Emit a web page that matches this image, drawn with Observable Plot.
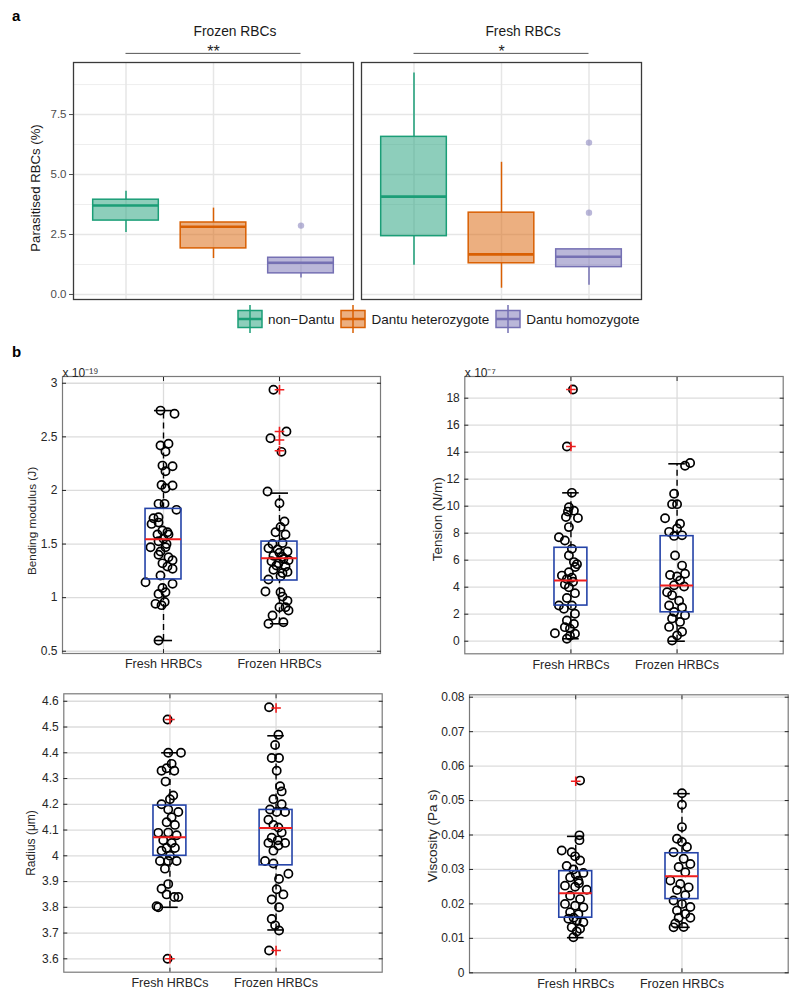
<!DOCTYPE html>
<html><head><meta charset="utf-8">
<script src="https://cdn.jsdelivr.net/npm/d3@7"></script>
<script src="https://cdn.jsdelivr.net/npm/@observablehq/plot@0.6"></script>
<style>
body{margin:0;background:#fff;}
#root{position:relative;width:800px;height:1000px;background:#fff;font-family:"Liberation Sans",Arial,Helvetica,sans-serif;}
.plabel{position:absolute;font-weight:bold;font-size:15px;color:#000;}
#legend{position:absolute;left:237px;top:304px;display:flex;align-items:center;font-size:13.5px;color:#1a1a1a;}
#legend .item{display:flex;align-items:center;margin-right:6px;}
#legend .item span{margin-left:5px;}
</style></head>
<body><div id="root"></div>
<script>
const FONT = '"Liberation Sans", Arial, Helvetica, sans-serif';

// ---------------- Panel a data ----------------
const groupsA = ["non\u2212Dantu", "Dantu heterozygote", "Dantu homozygote"];
const facetsA = ["Frozen RBCs", "Fresh RBCs"];
const coloursA = ["#1b9e77", "#d95f02", "#7570b3"];
const signifA = ["**", "*"];
const yLabelA = "Parasitised RBCs (%)";
const yTicksA = [0, 2.5, 5, 7.5];
const yMinorA = [1.25, 3.75, 6.25, 8.75];

const frozenQ1 = [3.08, 1.92, 0.88];
const frozenMed = [3.71, 2.82, 1.32];
const frozenQ3 = [3.95, 3.0, 1.53];
const frozenLo = [2.58, 1.5, 0.69];
const frozenHi = [4.3, 3.6, 1.53];
const frozenOut = [[], [], [2.87]];

const freshQ1 = [2.43, 1.3, 1.14];
const freshMed = [4.08, 1.67, 1.57];
const freshQ3 = [6.57, 3.41, 1.88];
const freshLo = [1.22, 0.26, 0.38];
const freshHi = [9.23, 5.51, 1.88];
const freshOut = [[], [], [3.41, 6.33]];

// ---------------- Panel b data ----------------
const catsB = ["Fresh HRBCs", "Frozen HRBCs"];

// Bending modulus (x 1e-19 J)
const bendFreshVals = [2.745,2.715,2.419,2.435,2.363,2.232,2.226,2.179,2.052,2.046,2.02,1.875,1.875,1.819,1.741,1.75,1.688,1.70,1.626,1.61,1.59,1.59,1.55,1.526,1.50,1.47,1.47,1.43,1.40,1.377,1.35,1.32,1.29,1.27,1.206,1.144,1.13,1.09,1.05,1.035,0.942,0.93,0.96,0.60];
const bendFreshJit = [-0.026,0.095,-0.026,0.043,0.017,-0.009,0.078,0.017,-0.017,0.078,0.017,-0.043,0.009,0.112,-0.086,-0.043,-0.103,-0.043,-0.009,0.034,-0.052,0.043,0.0,-0.043,0.026,-0.112,0.017,-0.026,-0.043,0.043,0.078,-0.009,0.034,0.078,-0.026,-0.155,0.078,-0.009,0.017,-0.043,-0.069,-0.017,0.01,-0.043];
const bendFrozenVals = [2.94,2.55,2.487,2.36,1.99,1.88,1.71,1.66,1.61,1.59,1.51,1.50,1.46,1.45,1.43,1.42,1.39,1.38,1.36,1.35,1.34,1.32,1.30,1.29,1.26,1.24,1.23,1.20,1.17,1.057,1.05,1.01,0.97,0.91,0.91,0.88,0.833,0.77,0.756];
const bendFrozenJit = [-0.052,0.06,-0.078,0.017,-0.103,0,0.043,0.009,-0.034,0.052,0.026,-0.06,-0.095,-0.017,0.069,0.0,-0.052,0.026,0.034,0.078,-0.069,-0.009,-0.026,0.052,-0.052,0.069,0.026,0.009,-0.095,-0.121,0.009,0.026,0.069,0,0.052,0.078,-0.06,0.034,-0.095];
const bendQ1 = [1.17, 1.16], bendMed = [1.544, 1.368], bendQ3 = [1.828, 1.523];
const bendLo = [0.60, 0.756], bendHi = [2.745, 1.975];
const bendOut = [[], [2.94, 2.55, 2.47, 2.37]];
const bendTicks = [0.5, 1, 1.5, 2, 2.5, 3];

// Tension (x 1e-7 N/m)
const tenFreshVals = [18.64,14.42,10.99,9.93,9.67,9.6,9.2,9.12,8.45,7.70,7.46,6.84,6.35,5.86,5.7,5.5,5.11,4.86,4.7,4.6,4.4,4.2,4.0,3.56,3.2,2.64,2.64,2.4,2.03,1.53,1.28,1.04,0.93,0.59,0.55,0.4,0.18];
const tenFreshJit = [0.019,-0.038,0.009,-0.019,0.028,-0.028,-0.047,0.066,-0.019,-0.113,-0.057,0.009,-0.019,0.028,0.057,0.04,-0.019,-0.085,0.009,-0.038,0.02,-0.057,-0.019,0.038,-0.038,-0.113,0.009,-0.066,0.038,-0.038,0.028,-0.057,-0.009,-0.151,0.038,-0.009,-0.038];
const tenFrozenVals = [13.2,13.0,10.92,10.15,10.15,9.11,8.7,8.35,8.1,7.84,7.8,6.35,5.6,5.0,4.9,4.8,4.5,4.15,4.05,3.63,3.4,3.0,2.64,2.5,2.17,1.93,1.68,1.43,1.06,0.7,0.42,0.05];
const tenFrozenJit = [0.123,0.075,-0.028,-0.047,0,-0.113,0.028,0,-0.075,0.047,-0.028,-0.019,0.047,0.075,-0.066,0,0.028,-0.028,0.066,-0.094,-0.047,0.019,-0.075,0.047,-0.028,0.075,-0.047,0.028,-0.075,0.047,0,-0.047];
const tenQ1 = [2.64, 2.14], tenMed = [4.5, 4.12], tenQ3 = [6.92, 7.78];
const tenLo = [0.18, 0.0], tenHi = [10.99, 13.14];
const tenOut = [[18.64, 14.42], []];
const tenTicks = [0, 2, 4, 6, 8, 10, 12, 14, 16, 18];

// Radius (um)
const radFreshVals = [4.529,4.40,4.40,4.357,4.33,4.34,4.33,4.288,4.234,4.22,4.20,4.18,4.17,4.15,4.13,4.12,4.089,4.09,4.08,4.06,4.05,4.03,4.03,4.02,4.0,3.98,3.98,3.98,3.95,3.89,3.872,3.85,3.84,3.84,3.804,3.80,3.60];
const radFreshJit = [-0.022,-0.016,0.104,0.016,-0.079,-0.031,0.041,-0.041,0.031,0,-0.079,-0.016,0.079,0.016,-0.031,0.047,-0.11,-0.016,0.063,-0.063,0.016,-0.031,0.047,-0.079,0,-0.094,-0.016,0.063,-0.047,-0.016,-0.079,-0.031,0.041,0.079,-0.126,-0.11,-0.022];
const radFrozenVals = [4.577,4.47,4.43,4.38,4.38,4.33,4.27,4.25,4.22,4.20,4.18,4.17,4.17,4.14,4.12,4.11,4.09,4.07,4.06,4.05,4.05,4.04,4.02,3.98,3.97,3.93,3.91,3.87,3.85,3.83,3.80,3.755,3.73,3.71,3.632];
const radFrozenJit = [-0.066,0.022,-0.009,-0.041,0.028,0.006,0.038,0.053,-0.025,0.053,-0.057,0.006,0.085,-0.072,-0.025,0.022,0.053,-0.041,0.016,0.085,-0.072,0.022,-0.025,-0.104,-0.025,0.116,0.028,0.006,0.069,-0.041,0.028,-0.041,-0.009,0.028,-0.066];
const radQ1 = [4.0, 3.963], radMed = [4.072, 4.108], radQ3 = [4.195, 4.178];
const radLo = [3.80, 3.712], radHi = [4.40, 4.466];
const radOut = [[4.529, 3.6], [4.574, 3.632]];
const radTicks = [3.6, 3.7, 3.8, 3.9, 4, 4.1, 4.2, 4.3, 4.4, 4.5, 4.6];

// Viscosity (Pa s)
const visFreshVals = [0.0558,0.0399,0.0385,0.0355,0.035,0.0338,0.0326,0.031,0.030,0.0285,0.029,0.0277,0.0267,0.026,0.0253,0.025,0.0241,0.0224,0.0214,0.020,0.0195,0.019,0.0176,0.017,0.016,0.0157,0.0152,0.0147,0.0132,0.0128,0.012,0.0103];
const visFreshJit = [0.041,0.035,0.035,-0.132,-0.038,-0.006,0.041,-0.085,-0.022,0.0,0.072,-0.053,0.025,0.03,-0.101,-0.006,0.104,-0.053,0.041,-0.101,-0.006,0.072,-0.053,0.025,-0.02,-0.069,0.009,0.072,-0.038,0.041,0.01,-0.022];
const visFrozenVals = [0.0521,0.0488,0.0423,0.0389,0.038,0.0365,0.035,0.0331,0.0316,0.0307,0.0292,0.0268,0.0258,0.0248,0.024,0.0225,0.021,0.020,0.0191,0.0181,0.0171,0.016,0.016,0.0143,0.0133,0.0132];
const visFrozenJit = [0,0,0,-0.047,0,0.047,-0.079,0.016,0.079,-0.031,0.031,-0.11,-0.016,0.063,-0.047,0.031,-0.079,0,0.079,-0.047,0.031,-0.031,0.079,-0.063,0.016,-0.079];
const visQ1 = [0.016, 0.0214], visMed = [0.0231, 0.028], visQ3 = [0.0295, 0.0347];
const visLo = [0.0102, 0.0132], visHi = [0.0396, 0.052];
const visOut = [[0.0556], []];
const visTicks = [0, 0.01, 0.02, 0.03, 0.04, 0.05, 0.06, 0.07, 0.08];

// ---------------- build ----------------
const root = document.getElementById("root");
function place(el, left, top) {
  el.style.position = "absolute";
  el.style.left = left + "px";
  el.style.top = top + "px";
  root.appendChild(el);
}
function addLabel(t, left, top) {
  const d = document.createElement("div");
  d.className = "plabel"; d.textContent = t;
  d.style.left = left + "px"; d.style.top = top + "px";
  root.appendChild(d);
}

// Panel a
const statsA = {
  "Frozen RBCs": {q1: frozenQ1, med: frozenMed, q3: frozenQ3, lo: frozenLo, hi: frozenHi, out: frozenOut},
  "Fresh RBCs": {q1: freshQ1, med: freshMed, q3: freshQ3, lo: freshLo, hi: freshHi, out: freshOut}
};
const rowsA = [], outA = [];
facetsA.forEach(f => groupsA.forEach((g, gi) => {
  const s = statsA[f];
  rowsA.push({facet: f, group: g, gi, q1: s.q1[gi], med: s.med[gi], q3: s.q3[gi], lo: s.lo[gi], hi: s.hi[gi]});
  s.out[gi].forEach(v => outA.push({facet: f, group: g, gi, v}));
}));
const sigRows = facetsA.map((f, i) => ({facet: f, s: signifA[i]}));
const HW = 0.375;

const plotA = Plot.plot({
  width: 660, height: 310,
  marginLeft: 73, marginRight: 19, marginTop: 62, marginBottom: 11,
  fx: {domain: facetsA, paddingInner: 0.0278, paddingOuter: 0, round: false, axis: null},
  x: {domain: [-0.6, 2.6], axis: null},
  y: {domain: [-0.21, 9.67]},
  color: {domain: groupsA, range: coloursA},
  style: {fontFamily: FONT, background: "transparent", overflow: "visible"},
  marks: [
    Plot.ruleY(yMinorA, {stroke: "#eeeeee", strokeWidth: 1}),
    Plot.ruleY(yTicksA, {stroke: "#e6e6e6", strokeWidth: 1.5}),
    Plot.ruleX([0, 1, 2], {stroke: "#e6e6e6", strokeWidth: 1.5}),
    Plot.ruleX(rowsA, {fx: "facet", x: "gi", y1: "q3", y2: "hi", stroke: "group", strokeWidth: 1.5}),
    Plot.ruleX(rowsA, {fx: "facet", x: "gi", y1: "lo", y2: "q1", stroke: "group", strokeWidth: 1.5}),
    Plot.rect(rowsA, {fx: "facet", x1: d => d.gi - HW, x2: d => d.gi + HW, y1: "q1", y2: "q3", fill: "group", fillOpacity: 0.5, stroke: "group", strokeWidth: 1.5}),
    Plot.ruleY(rowsA, {fx: "facet", y: "med", x1: d => d.gi - HW, x2: d => d.gi + HW, stroke: "group", strokeWidth: 2.6}),
    Plot.dot(outA, {fx: "facet", x: "gi", y: "v", fill: "group", fillOpacity: 0.5, r: 3.2}),
    Plot.frame({stroke: "#3a3a3a", strokeWidth: 1.3}),
    Plot.axisY({ticks: yTicksA, tickFormat: d => d.toFixed(1), tickSize: 4, tickPadding: 3, fontSize: 11.5, color: "#4d4d4d", label: null}),
    Plot.ruleY(sigRows, {fx: "facet", y: 10.05, x1: 0, x2: 2, stroke: "#555", strokeWidth: 1}),
    Plot.text(sigRows, {fx: "facet", x: 1, y: 10.05, text: "s", dy: -2, fontSize: 16, fill: "#222"}),
    Plot.text(facetsA, {fx: d => d, text: d => d, frameAnchor: "top", dy: -36, dx: 21.5, fontSize: 13.8, fill: "#1a1a1a"}),
    Plot.text([{facet: facetsA[0], t: yLabelA}], {fx: "facet", text: "t", frameAnchor: "left", textAnchor: "middle", rotate: -90, dx: -38, dy: 7, fontSize: 13.2, fill: "#1a1a1a"})
  ]
});
place(plotA, 0, 0);
addLabel("a", 12, 7);

// Legend for panel a
const leg = document.createElement("div");
leg.id = "legend";
groupsA.forEach((g, i) => {
  const c = coloursA[i];
  const it = document.createElement("div");
  it.className = "item";
  it.innerHTML = `<svg width="26" height="30"><line x1="13" x2="13" y1="1" y2="29" stroke="${c}" stroke-width="1.5"/><rect x="1" y="6.5" width="24" height="17" fill="${c}" fill-opacity="0.5" stroke="${c}" stroke-width="1.5"/><line x1="1" x2="25" y1="15" y2="15" stroke="${c}" stroke-width="2.5"/></svg><span>${g}</span>`;
  leg.appendChild(it);
});
root.appendChild(leg);

// Panel b helper
function matlabPanel(o) {
  const pts = [], outs = [];
  o.cats.forEach((c, ci) => o.vals[ci].forEach((v, k) => pts.push({ci: ci + 1, v, j: o.jits[ci][k]})));
  o.cats.forEach((c, ci) => o.outs[ci].forEach(v => outs.push({ci: ci + 1, v})));
  const stats = o.cats.map((c, ci) => ({ci: ci + 1, q1: o.q1[ci], med: o.med[ci], q3: o.q3[ci], lo: o.lo[ci], hi: o.hi[ci]}));
  const ink = "#262626";
  const BW = 0.155, CW = 0.078;
  return Plot.plot({
    width: 400, height: 340, ...o.margins,
    x: {domain: o.xDomain},
    y: {domain: o.yDomain},
    style: {fontFamily: FONT, background: "transparent", overflow: "visible"},
    marks: [
      Plot.ruleY(o.ticks, {stroke: "#dcdcdc", strokeWidth: 1.3}),
      Plot.ruleX([1, 2], {stroke: "#dcdcdc", strokeWidth: 1.3}),
      Plot.ruleX(stats, {x: "ci", y1: "q3", y2: "hi", stroke: "#000", strokeWidth: 1.4, strokeDasharray: "6,4"}),
      Plot.ruleX(stats, {x: "ci", y1: "lo", y2: "q1", stroke: "#000", strokeWidth: 1.4, strokeDasharray: "6,4"}),
      Plot.ruleY(stats, {y: "hi", x1: d => d.ci - CW, x2: d => d.ci + CW, stroke: "#000", strokeWidth: 1.6}),
      Plot.ruleY(stats, {y: "lo", x1: d => d.ci - CW, x2: d => d.ci + CW, stroke: "#000", strokeWidth: 1.6}),
      Plot.dot(pts, {x: d => d.ci + d.j, y: "v", r: 4.1, stroke: "#000", strokeWidth: 1.7, fill: "none"}),
      Plot.rect(stats, {x1: d => d.ci - BW, x2: d => d.ci + BW, y1: "q1", y2: "q3", stroke: "#2443a8", strokeWidth: 1.6, fill: "none"}),
      Plot.ruleY(stats, {y: "med", x1: d => d.ci - BW, x2: d => d.ci + BW, stroke: "#f01e1e", strokeWidth: 2}),
      Plot.dot(outs, {x: "ci", y: "v", symbol: "plus", r: 3.2, stroke: "#f01e1e", strokeWidth: 1.6}),
      Plot.frame({stroke: "#7a7a7a", strokeWidth: 1.2}),
      Plot.axisY({ticks: o.ticks, anchor: "left", tickSize: -4, tickPadding: 9, tickFormat: d => String(d), fontSize: 12, color: ink, label: null}),
      Plot.axisY({ticks: o.ticks, anchor: "right", tickSize: -4, tickFormat: () => "", color: ink, label: null}),
      Plot.axisX({ticks: [1, 2], anchor: "bottom", tickSize: -4, tickPadding: 10, tickFormat: i => o.cats[i - 1], fontSize: 12.5, color: ink, label: null}),
      Plot.axisX({ticks: [1, 2], anchor: "top", tickSize: -4, tickFormat: () => "", color: ink, label: null}),
      Plot.text([o.ylabel], {text: d => d, frameAnchor: "left", textAnchor: "middle", rotate: -90, dx: o.labelDx, dy: o.labelDy, fontSize: o.labelSize, fill: ink}),
      o.exponent ? Plot.text([o.exponent], {text: d => d, frameAnchor: "top-left", textAnchor: "start", dy: -8, fontSize: 12, fill: ink}) : null
    ]
  });
}

place(matlabPanel({
  cats: catsB, vals: [bendFreshVals, bendFrozenVals], jits: [bendFreshJit, bendFrozenJit],
  q1: bendQ1, med: bendMed, q3: bendQ3, lo: bendLo, hi: bendHi, outs: bendOut, ticks: bendTicks,
  xDomain: [0.129, 2.871], yDomain: [0.479, 3.063],
  margins: {marginLeft: 62, marginRight: 20, marginTop: 36, marginBottom: 27},
  ylabel: "Bending modulus (J)", labelDx: -30, labelDy: 6, labelSize: 11.8, exponent: "x 10\u207B\u00B9\u2079"
}), 0, 340);

place(matlabPanel({
  cats: catsB, vals: [tenFreshVals, tenFrozenVals], jits: [tenFreshJit, tenFrozenJit],
  q1: tenQ1, med: tenMed, q3: tenQ3, lo: tenLo, hi: tenHi, outs: tenOut, ticks: tenTicks,
  xDomain: [0, 3], yDomain: [-0.933, 19.607],
  margins: {marginLeft: 64.3, marginRight: 17.3, marginTop: 36, marginBottom: 26.7},
  ylabel: "Tension (N/m)", labelDx: -27, labelDy: 4, labelSize: 13.5, exponent: "x 10\u207B\u2077"
}), 400, 340);

place(matlabPanel({
  cats: catsB, vals: [radFreshVals, radFrozenVals], jits: [radFreshJit, radFrozenJit],
  q1: radQ1, med: radMed, q3: radQ3, lo: radLo, hi: radHi, outs: radOut, ticks: radTicks,
  xDomain: [0, 3], yDomain: [3.548, 4.629],
  margins: {marginLeft: 63.3, marginRight: 18.3, marginTop: 33.3, marginBottom: 28.3},
  ylabel: "Radius (\u03BCm)", labelDx: -33, labelDy: 10, labelSize: 12, exponent: null
}), 0, 660);

place(matlabPanel({
  cats: catsB, vals: [visFreshVals, visFrozenVals], jits: [visFreshJit, visFrozenJit],
  q1: visQ1, med: visMed, q3: visQ3, lo: visLo, hi: visHi, outs: visOut, ticks: visTicks,
  xDomain: [0, 3], yDomain: [0, 0.0807],
  margins: {marginLeft: 69, marginRight: 12.3, marginTop: 34.3, marginBottom: 27.7},
  ylabel: "Viscosity (Pa s)", labelDx: -36.5, labelDy: 2, labelSize: 13.5, exponent: null
}), 400, 660);

addLabel("b", 12, 343);
</script>
</body></html>
